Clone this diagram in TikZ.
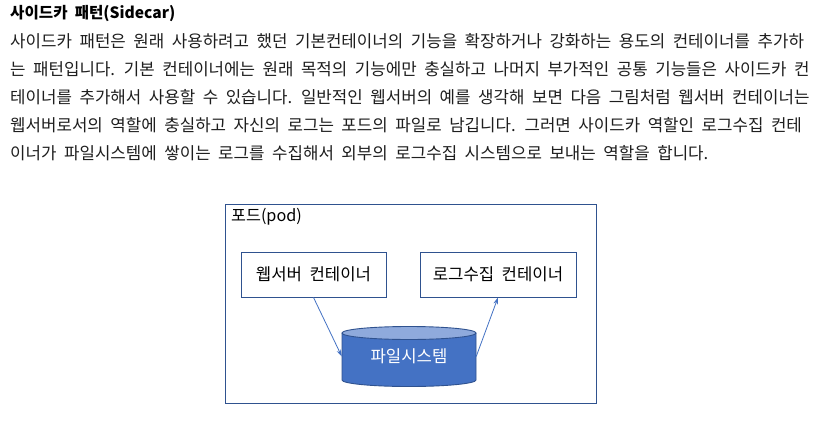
\documentclass[tikz,border=0pt]{standalone}
\usepackage{fontspec}
\setmainfont{Noto Sans CJK KR}[WordSpace=2]
\usetikzlibrary{arrows.meta}

\newlength{\du}
\setlength{\du}{1pt}

\definecolor{textcolor}{HTML}{1E1E1E}
\definecolor{podline}{HTML}{2F528F}
\definecolor{arrowline}{HTML}{4472C4}
\definecolor{fsbody}{HTML}{4472C4}
\definecolor{fstop}{HTML}{8FAADC}

\tikzset{
  paraline/.style={anchor=west, inner sep=0pt, text=textcolor,
    font=\fontsize{16.8}{19}\selectfont},
  container/.style={draw=podline, line width=0.9\du, fill=white, inner sep=0pt,
    minimum width=145\du, minimum height=45\du,
    font=\fontsize{16.7}{19}\selectfont},
  flow/.style={draw=arrowline, line width=0.8\du,
    -{Stealth[length=7pt,width=4.5pt]}},
}

\begin{document}
\begin{tikzpicture}
\pgftransformxscale{1.000000}
\pgftransformyscale{-1.000000}
\useasboundingbox[fill=white] (0\du,0\du) rectangle (828\du,426\du);
% heading and text
\node[paraline, font=\fontsize{15.6}{19}\selectfont\bfseries, text=black] (title) at (10\du,14\du){사이드카 패턴(Sidecar)};
\node[paraline] (line1) at (10\du,41\du){사이드카 패턴은 원래 사용하려고 했던 기본컨테이너의 기능을 확장하거나 강화하는 용도의 컨테이너를 추가하};
\node[paraline] (line2) at (10\du,69\du){는 패턴입니다. 기본 컨테이너에는 원래 목적의 기능에만 충실하고 나머지 부가적인 공통 기능들은 사이드카 컨};
\node[paraline] (line3) at (10\du,97\du){테이너를 추가해서 사용할 수 있습니다. 일반적인 웹서버의 예를 생각해 보면 다음 그림처럼 웹서버 컨테이너는};
\node[paraline] (line4) at (10\du,125\du){웹서버로서의 역할에 충실하고 자신의 로그는 포드의 파일로 남깁니다. 그러면 사이드카 역할인 로그수집 컨테};
\node[paraline] (line5) at (10\du,153\du){이너가 파일시스템에 쌓이는 로그를 수집해서 외부의 로그수집 시스템으로 보내는 역할을 합니다.};
% pod
\draw[podline, line width=0.9\du] (225\du,204\du) rectangle (596\du,403\du);
\node[anchor=west, inner sep=0pt, font=\fontsize{16.2}{19}\selectfont] (podlabel) at (231\du,217\du){포드(pod)};
% containers
\node[container] (web) at (313.5\du,274.5\du){웹서버 컨테이너};
\node[container, minimum width=156\du] (collector) at (498\du,274.5\du){로그수집 컨테이너};
% file system
\fill[fsbody] (342\du,333\du) -- (342\du,380\du) arc[start angle=180, end angle=0, x radius=67\du, y radius=6.5\du] -- (476\du,333\du) -- cycle;
\draw[podline, line width=0.9\du] (342\du,333\du) -- (342\du,380\du) arc[start angle=180, end angle=0, x radius=67\du, y radius=6.5\du] -- (476\du,333\du);
\filldraw[fill=fstop, draw=podline, line width=0.9\du] (409\du,333\du) ellipse[x radius=67\du, y radius=6.5\du];
\node[inner sep=0pt, minimum width=134\du, minimum height=47\du, text=white, font=\fontsize{16.7}{19}\selectfont] (fs) at (409\du,356.5\du){파일시스템};
% arrows
\draw[flow] (web.south) -- (fs.west);
\draw[flow] (fs.east) -- (collector.south);
\end{tikzpicture}
\end{document}
